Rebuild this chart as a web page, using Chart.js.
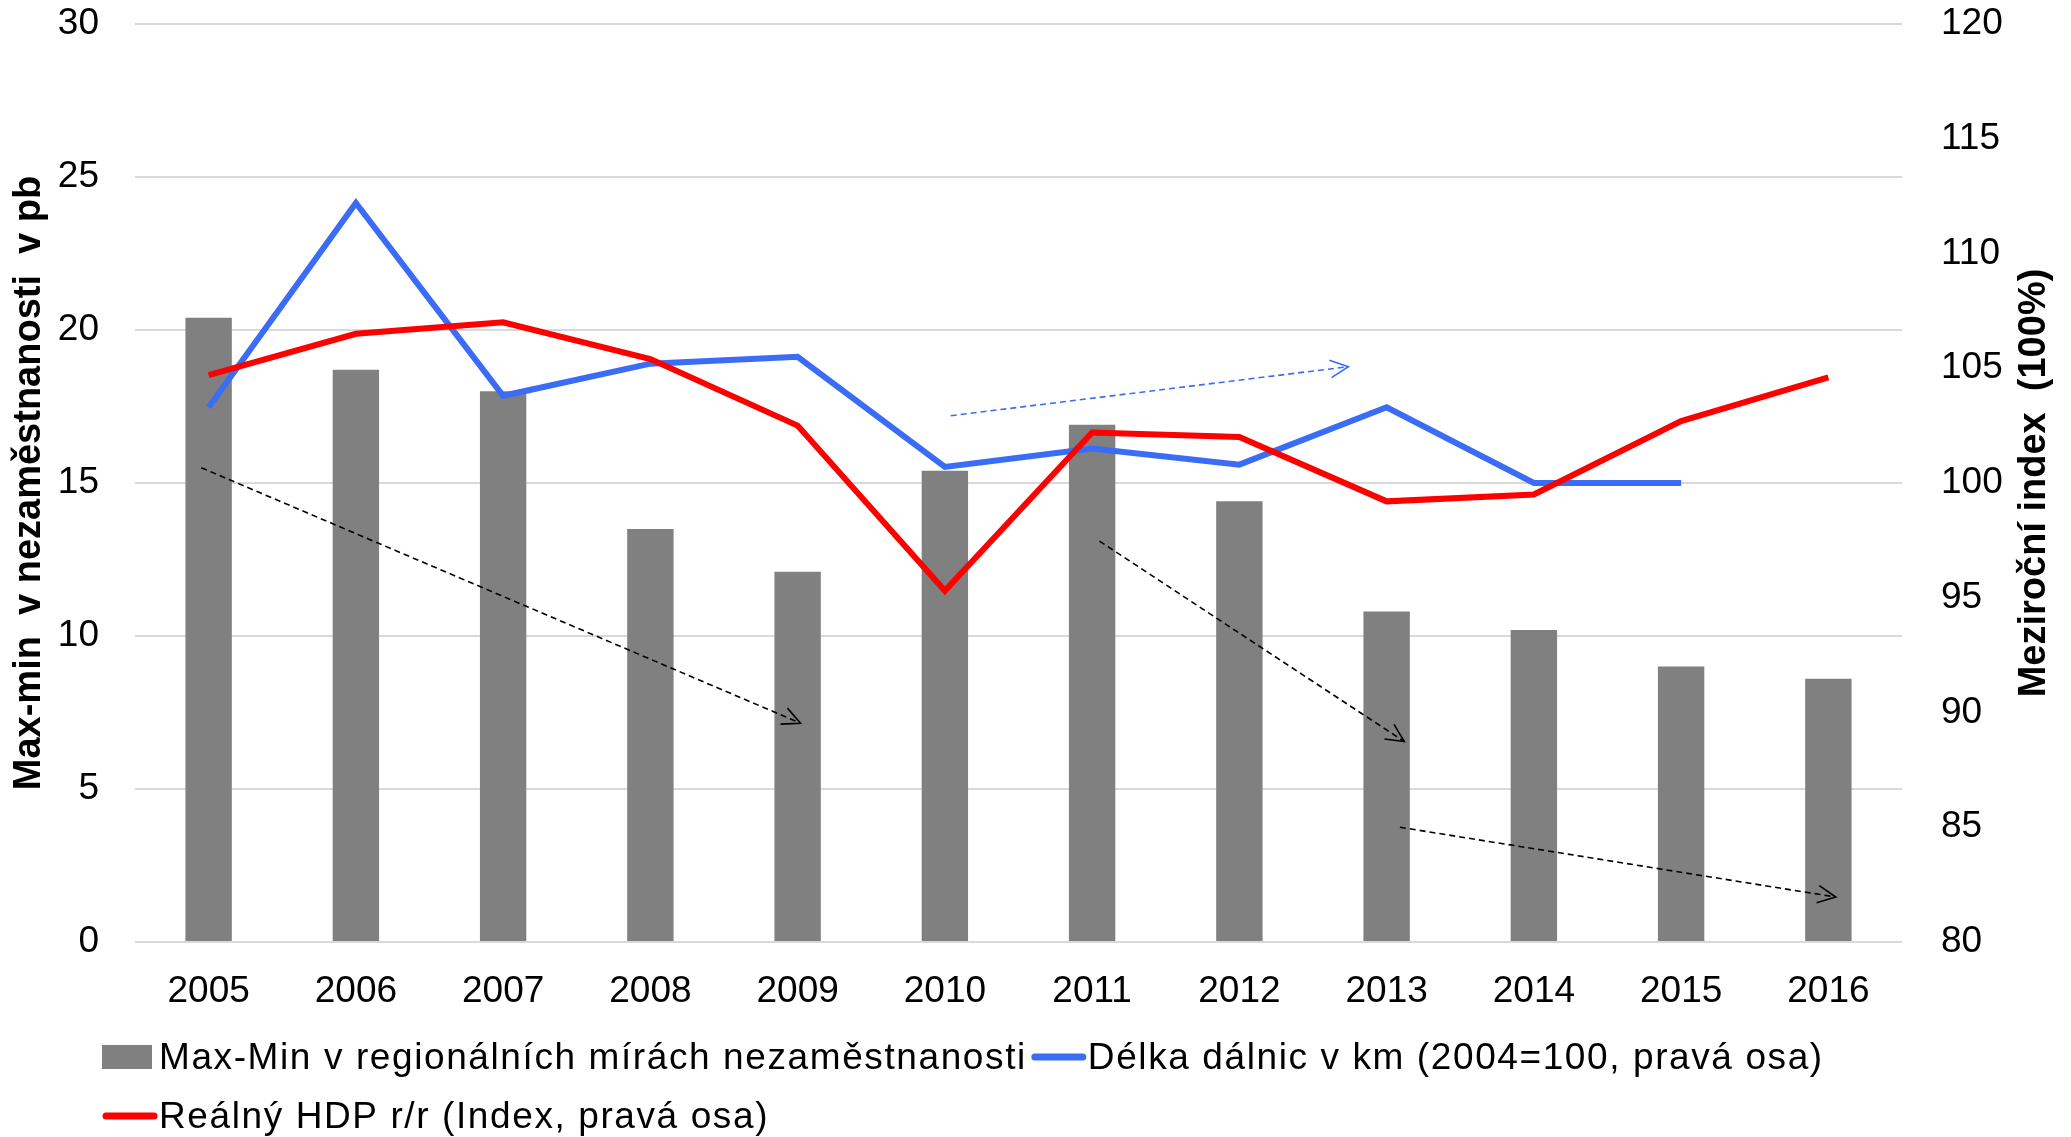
<!DOCTYPE html>
<html>
<head>
<meta charset="utf-8">
<script src="https://cdn.jsdelivr.net/npm/chart.js@4.4.1/dist/chart.umd.min.js"></script>
<style>
	html, body { margin: 0; padding: 0; background: #fff; }
	canvas { display: block; }
</style>
</head>
<body>
<canvas id="gapChart" width="2071" height="1137"></canvas>
<script>
// Data
const years = ['2005', '2006', '2007', '2008', '2009', '2010', '2011', '2012', '2013', '2014', '2015', '2016'];
const unemploymentGap = [20.4, 18.7, 18.0, 13.5, 12.1, 15.4, 16.9, 14.4, 10.8, 10.2, 9.0, 8.6];
const motorwayIndex = [103.3, 112.2, 103.8, 105.2, 105.5, 100.7, 101.5, 100.8, 103.3, 100.0, 100.0, null];
const gdpIndex = [104.7, 106.5, 107.0, 105.4, 102.5, 95.3, 102.2, 102.0, 99.2, 99.5, 102.7, 104.6];
const leftRange = [0, 30];
const rightRange = [80, 120];

// Dashed trend arrows (category index, left-axis value)
const trendArrows = [
	{ from: [-0.05, 15.5], to: [4.02, 7.15], color: '#000000' },
	{ from: [6.05, 13.1], to: [8.12, 6.55], color: '#000000' },
	{ from: [8.09, 3.75], to: [11.05, 1.47], color: '#000000' },
	{ from: [5.04, 17.2], to: [7.74, 18.8], color: '#3b6cf6' },
];

const labels = {
	bars: 'Max-Min v regionálních mírách nezaměstnanosti',
	motorway: 'Délka dálnic v km (2004=100, pravá osa)',
	gdp: 'Reálný HDP r/r (Index, pravá osa)',
	leftTitle: 'Max-min  v nezaměstnanosti  v pb',
	rightTitle: 'Meziroční index  (100%)',
};

const GRAY = '#808080';
const BLUE = '#3b6cf6';
const RED = '#ff0000';
const FONT = "'Liberation Sans', Arial, sans-serif";
const TITLE_FONT = "bold 38px 'Liberation Sans', Arial, sans-serif";

Chart.defaults.font.family = FONT;
Chart.defaults.color = '#000';

// Arrows drawn on top of the series
const arrowPlugin = {
	id: 'trendArrows',
	afterDatasetsDraw(chart) {
		const { ctx } = chart;
		const x = chart.scales.x;
		const y = chart.scales.y;
		trendArrows.forEach((a) => {
			const x1 = x.getPixelForValue(a.from[0]);
			const y1 = y.getPixelForValue(a.from[1]);
			const x2 = x.getPixelForValue(a.to[0]);
			const y2 = y.getPixelForValue(a.to[1]);
			ctx.save();
			ctx.strokeStyle = a.color;
			ctx.lineWidth = 1.6;
			ctx.setLineDash([6, 4]);
			ctx.beginPath();
			ctx.moveTo(x1, y1);
			ctx.lineTo(x2, y2);
			ctx.stroke();
			ctx.setLineDash([]);
			const ang = Math.atan2(y2 - y1, x2 - x1);
			const len = 20;
			ctx.beginPath();
			ctx.moveTo(x2 - len * Math.cos(ang - 0.45), y2 - len * Math.sin(ang - 0.45));
			ctx.lineTo(x2, y2);
			ctx.lineTo(x2 - len * Math.cos(ang + 0.45), y2 - len * Math.sin(ang + 0.45));
			ctx.stroke();
			ctx.restore();
		});
	},
};

// Axis titles, both reading bottom to top
const titlePlugin = {
	id: 'axisTitles',
	afterDraw(chart) {
		const { ctx, chartArea } = chart;
		const cy = (chartArea.top + chartArea.bottom) / 2;
		[[labels.leftTitle, 30], [labels.rightTitle, chart.width - 36]].forEach(([text, cx]) => {
			ctx.save();
			ctx.translate(cx, cy);
			ctx.rotate(-Math.PI / 2);
			ctx.font = TITLE_FONT;
			ctx.fillStyle = '#000';
			ctx.textAlign = 'center';
			ctx.textBaseline = 'middle';
			ctx.fillText(text, 0, 0);
			ctx.restore();
		});
	},
};

// Legend in two rows, left aligned
const legendPlugin = {
	id: 'bottomLegend',
	afterDraw(chart) {
		const { ctx } = chart;
		const items = [
			{ text: labels.bars, color: GRAY, type: 'box', row: 0 },
			{ text: labels.motorway, color: BLUE, type: 'line', row: 0 },
			{ text: labels.gdp, color: RED, type: 'line', row: 1 },
		];
		const rowY = [chart.height - 80, chart.height - 21];
		let x = 102;
		let row = 0;
		ctx.save();
		ctx.font = '37px ' + FONT;
		ctx.letterSpacing = '1.6px';
		ctx.textBaseline = 'middle';
		items.forEach((it) => {
			if (it.row !== row) {
				row = it.row;
				x = 102;
			}
			const cy = rowY[row];
			if (it.type === 'box') {
				ctx.fillStyle = it.color;
				ctx.fillRect(x, cy - 12, 50, 24);
			} else {
				ctx.strokeStyle = it.color;
				ctx.lineWidth = 7;
				ctx.lineCap = 'round';
				ctx.beginPath();
				ctx.moveTo(x + 4, cy);
				ctx.lineTo(x + 52, cy);
				ctx.stroke();
			}
			x += 57;
			ctx.fillStyle = '#000';
			ctx.fillText(it.text, x, cy + 2);
			x += ctx.measureText(it.text).width + 4;
		});
		ctx.restore();
	},
};

const ctx = document.getElementById('gapChart').getContext('2d');
const gapChart = new Chart(ctx, {
	type: 'bar',
	data: {
		labels: years,
		datasets: [
			{
				label: labels.bars,
				data: unemploymentGap,
				backgroundColor: GRAY,
				yAxisID: 'y',
				order: 3,
				categoryPercentage: 1,
				barPercentage: 0.315,
			},
			{
				type: 'line',
				label: labels.motorway,
				data: motorwayIndex,
				borderColor: BLUE,
				borderWidth: 6,
				pointRadius: 0,
				tension: 0,
				fill: false,
				yAxisID: 'y1',
				order: 2,
			},
			{
				type: 'line',
				label: labels.gdp,
				data: gdpIndex,
				borderColor: RED,
				borderWidth: 6,
				pointRadius: 0,
				tension: 0,
				fill: false,
				yAxisID: 'y1',
				order: 1,
			},
		],
	},
	options: {
		responsive: false,
		animation: false,
		layout: {
			padding: { top: 24, bottom: 115, left: 0, right: 0 },
		},
		plugins: {
			legend: { display: false },
			tooltip: { enabled: false },
		},
		scales: {
			x: {
				grid: { display: false, drawTicks: false },
				border: { display: false },
				ticks: { font: { size: 37 }, padding: 28, maxRotation: 0 },
				afterFit(scale) {
					scale.height = 80;
				},
			},
			y: {
				position: 'left',
				min: leftRange[0],
				max: leftRange[1],
				ticks: { stepSize: 5, font: { size: 37 }, padding: 36 },
				grid: { color: '#d9d9d9', lineWidth: 2, drawTicks: false },
				border: { display: false },
				afterFit(scale) {
					scale.width = 135;
					scale.paddingTop = 0;
					scale.paddingBottom = 0;
				},
			},
			y1: {
				position: 'right',
				min: rightRange[0],
				max: rightRange[1],
				ticks: { stepSize: 5, font: { size: 37 }, padding: 39 },
				grid: { display: false, drawTicks: false },
				border: { display: false },
				afterFit(scale) {
					scale.width = 169;
					scale.paddingTop = 0;
					scale.paddingBottom = 0;
				},
			},
		},
	},
	plugins: [arrowPlugin, titlePlugin, legendPlugin],
});
</script>
</body>
</html>
